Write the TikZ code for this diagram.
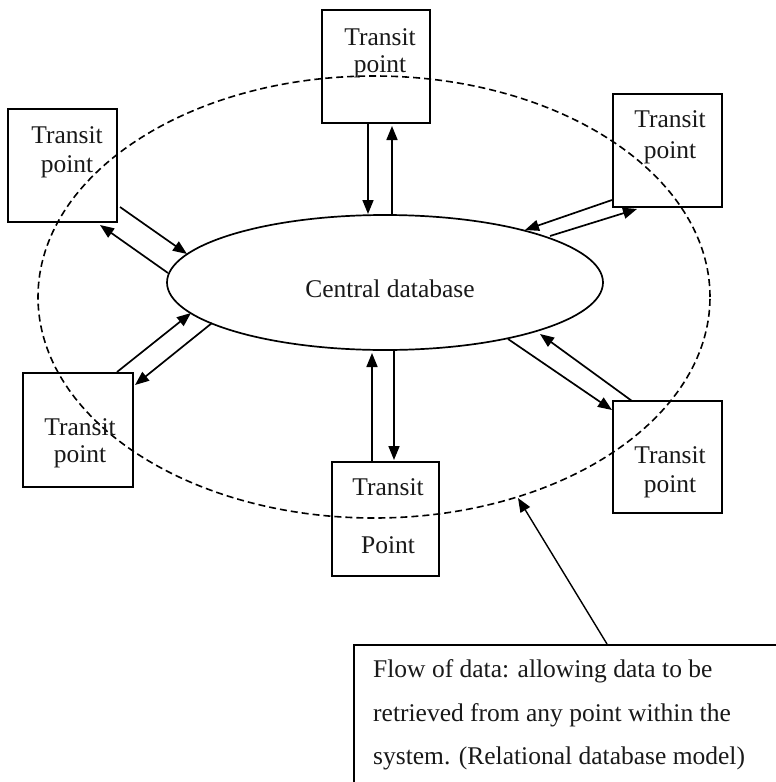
\documentclass[tikz,border=0pt]{standalone}
\usepackage{fontspec}
\setmainfont{Liberation Serif}
\usetikzlibrary{arrows.meta,shapes.geometric}
\begin{document}
\begin{tikzpicture}[x=1pt,y=-1pt,
  tbox/.style={draw, line width=2pt, minimum width=109pt, minimum height=113pt, inner sep=0pt},
  lbl/.style={font=\fontsize{25.5}{30}\selectfont, anchor=base, inner sep=0pt, text=black!90},
  nlbl/.style={font=\fontsize{25.5}{30}\selectfont, anchor=base west, inner sep=0pt, text=black!90},
  flow/.style={line width=1.7pt, -{Triangle[length=14pt,width=11pt]}},
  ]
\useasboundingbox (0,0) rectangle (776,782);
\clip (0,0) rectangle (776,782);

% system boundary (dashed) and central database
\node[ellipse, draw, dash pattern=on 7pt off 4pt, line width=1.6pt, minimum width=672pt, minimum height=442pt, inner sep=0pt] (sys) at (374,297) {};
\node[ellipse, draw, line width=1.7pt, minimum width=436pt, minimum height=135pt, inner sep=0pt] (db) at (385,282.5) {};
\node[lbl] (dbt) at (390,297) {Central database};

% transit point boxes
\node[tbox, minimum width=108pt] (tp) at (376,66.5) {};
\node[tbox] (tl) at (62.5,165.5) {};
\node[tbox] (tr) at (667.5,150.5) {};
\node[tbox, minimum width=110pt, minimum height=114pt] (bl) at (78,430) {};
\node[tbox, minimum height=112pt] (br) at (667.5,457) {};
\node[tbox, minimum width=107pt, minimum height=114pt] (bc) at (385.5,519) {};

\node[lbl] (tpa) at (380,45) {Transit};
\node[lbl] (tpb) at (380,72) {point};
\node[lbl] (tla) at (67,143) {Transit};
\node[lbl] (tlb) at (67,172) {point};
\node[lbl] (tra) at (670,127) {Transit};
\node[lbl] (trb) at (670,158) {point};
\node[lbl] (bla) at (80,435) {Transit};
\node[lbl] (blb) at (80,462) {point};
\node[lbl] (bra) at (670,463) {Transit};
\node[lbl] (brb) at (670,492) {point};
\node[lbl] (bca) at (388,495) {Transit};
\node[lbl] (bcb) at (388,553) {Point};

% annotation box
\node[draw, line width=2pt, anchor=north west, minimum width=460pt, minimum height=170pt, inner sep=0pt] (note) at (353,644) {};
\node[nlbl] (n1) at (373,677) {Flow of data: allowing data to be};
\node[nlbl] (n2) at (373,721) {retrieved from any point within the};
\node[nlbl] (n3) at (373,764) {system. (Relational database model)};

% connector end points
\coordinate (t1s) at (368,123);  \coordinate (t1e) at (368,214);
\coordinate (t2s) at (392,215);  \coordinate (t2e) at (392,126);
\coordinate (tl1s) at (120,207); \coordinate (tl1e) at (187,254);
\coordinate (tl2s) at (168,273); \coordinate (tl2e) at (100,225);
\coordinate (tr1s) at (612,200); \coordinate (tr1e) at (525,230);
\coordinate (tr2s) at (550,236); \coordinate (tr2e) at (637,209);
\coordinate (bl1s) at (117,372); \coordinate (bl1e) at (191,313);
\coordinate (bl2s) at (212,323); \coordinate (bl2e) at (135,385);
\coordinate (br1s) at (508,339); \coordinate (br1e) at (612,410);
\coordinate (br2s) at (632,401); \coordinate (br2e) at (540,334);
\coordinate (bc1s) at (372,462); \coordinate (bc1e) at (372,353);
\coordinate (bc2s) at (394,351); \coordinate (bc2e) at (394,460);
\coordinate (ns) at (607,644);   \coordinate (ne) at (518,498);

\draw[flow] (t1s) -- (t1e);
\draw[flow] (t2s) -- (t2e);
\draw[flow] (tl1s) -- (tl1e);
\draw[flow] (tl2s) -- (tl2e);
\draw[flow] (tr1s) -- (tr1e);
\draw[flow] (tr2s) -- (tr2e);
\draw[flow] (bl1s) -- (bl1e);
\draw[flow] (bl2s) -- (bl2e);
\draw[flow] (br1s) -- (br1e);
\draw[flow] (br2s) -- (br2e);
\draw[flow] (bc1s) -- (bc1e);
\draw[flow] (bc2s) -- (bc2e);
\draw[flow, line width=1.4pt] (ns) -- (ne);
\end{tikzpicture}
\end{document}
